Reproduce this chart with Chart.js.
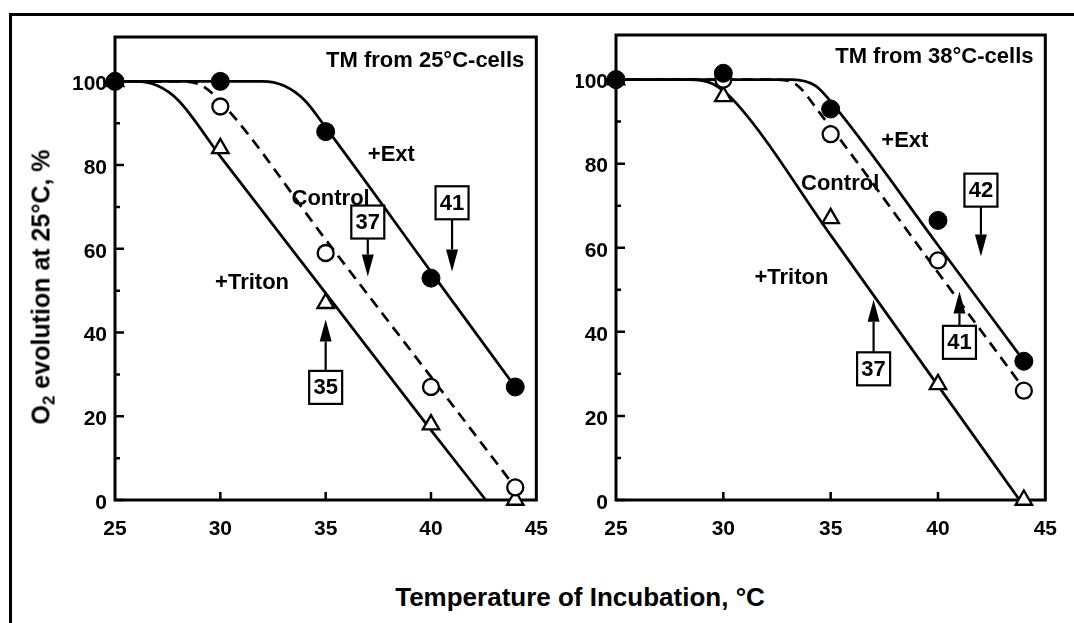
<!DOCTYPE html>
<html>
<head>
<meta charset="utf-8">
<script src="https://cdn.jsdelivr.net/npm/chart.js@4.4.1/dist/chart.umd.min.js"></script>
<style>
  html, body { margin: 0; padding: 0; background: #fff; }
  body { width: 1074px; height: 623px; position: relative; overflow: hidden;
         font-family: "Liberation Sans", Arial, Helvetica, sans-serif; }
  #frame { position: absolute; left: 9px; top: 13px; width: 1090px; height: 640px;
           border-top: 3px solid #000; border-left: 3px solid #000; }
  canvas { position: absolute; top: 0; }
  #panelA { left: 0; }
  #panelB { left: 560px; }
  .axisTitle { position: absolute; font-weight: bold; color: #000; white-space: nowrap; line-height: 1; }
  #xTitle { left: 580px; top: 597px; font-size: 26px; transform: translate(-50%, -50%); }
  #yTitle { left: 43px; top: 287px; font-size: 25px; transform: translate(-50%, -50%) rotate(-90deg); }
  #yTitle sub { font-size: 17px; vertical-align: -5px; }
</style>
</head>
<body>
<div id="frame"></div>
<canvas id="panelA" width="565" height="560"></canvas>
<canvas id="panelB" width="514" height="560"></canvas>
<div class="axisTitle" id="xTitle">Temperature of Incubation, °C</div>
<div class="axisTitle" id="yTitle">O<sub>2</sub> evolution at 25°C, %</div>

<script>
// Incubation temperatures (°C) of the measured samples
const temps = [25, 30, 35, 40, 44];

// TM from 25°C-cells: O2 evolution, % of initial
const extA     = [100, 100, 88, 53, 27];
const controlA = [100, 94, 59, 27, 3];
const tritonA  = [100, 84, 47, 18, 0];

// TM from 38°C-cells: O2 evolution, % of initial
const extB     = [100, 101.5, 93, 66.5, 33];
const controlB = [100, 100, 87, 57, 26];
const tritonB  = [100, 96, 67, 27.5, 0];

// Fitted inactivation curves (temperature, %)
const extFitAx     = [25, 32, 33, 34, 35, 40, 44];
const extFitAy     = [100, 100, 99, 95.5, 89, 54.5, 27];
const controlFitAx = [25, 28, 29, 30, 35, 40, 44];
const controlFitAy = [100, 100, 99.3, 95.2, 62.2, 29.4, 3];
const tritonFitAx  = [25, 26, 27, 28, 30, 35, 40, 42.6];
const tritonFitAy  = [100, 100, 99, 95.5, 82.1, 49.4, 16.7, 0];

const extFitBx     = [25, 33.2, 34.3, 35.3, 40, 44];
const extFitBy     = [100, 100, 98.5, 92.9, 60.6, 33.1];
const controlFitBx = [25, 32.4, 33.4, 34.5, 40, 44];
const controlFitBy = [100, 100, 98.8, 92.0, 54.1, 26.5];
const tritonFitBx  = [25, 28.4, 29.5, 30.6, 35, 40, 43.8];
const tritonFitBy  = [100, 100, 99, 94.4, 63, 27.2, 0];

// Half-inactivation temperatures marked by boxed arrows
const midTempsA = [35, 37, 41];
const midTempsB = [37, 41, 42];

// Axis ticks
const xTicks = [25, 30, 35, 40, 45];
const xInnerTicks = [30, 35, 40];
const yTicks = [0, 20, 40, 60, 80, 100];
const yMinorTicks = [10, 30, 50, 70, 90];

const FONT = '"Liberation Sans", Arial, Helvetica, sans-serif';

function pts(xs, ys) { return xs.map((v, i) => ({ x: v, y: ys[i] })); }

function markerSets(ext, control, triton) {
  return [
    { data: pts(temps, ext), pointStyle: 'circle', pointRadius: 9,
      pointBackgroundColor: '#000', pointBorderColor: '#000', pointBorderWidth: 1 },
    { data: pts(temps, control), pointStyle: 'circle', pointRadius: 8,
      pointBackgroundColor: '#fff', pointBorderColor: '#000', pointBorderWidth: 2.3 },
    { data: pts(temps, triton), pointStyle: 'triangle', pointRadius: 9.5,
      pointBackgroundColor: '#fff', pointBorderColor: '#000', pointBorderWidth: 2.3 }
  ].map(d => Object.assign(d, { showLine: false, clip: false, pointHoverRadius: d.pointRadius }));
}

function curveSet(xs, ys, dashed) {
  return { data: pts(xs, ys), showLine: true, pointRadius: 0, pointHoverRadius: 0,
           borderColor: '#000', borderWidth: 2.7, borderDash: dashed ? [11, 7] : [],
           cubicInterpolationMode: 'monotone', clip: false, fill: false };
}

// Frame, inward ticks, curve labels and boxed arrows
const panelDecor = {
  id: 'panelDecor',
  beforeDatasetsDraw(chart) {
    const { ctx, chartArea: a, scales: { x, y } } = chart;
    ctx.save();
    ctx.strokeStyle = '#000';
    ctx.lineWidth = 3;
    ctx.strokeRect(a.left, a.top, a.right - a.left, a.bottom - a.top);
    ctx.lineWidth = 2.5;
    ctx.beginPath();
    xInnerTicks.forEach(v => {
      const px = x.getPixelForValue(v);
      ctx.moveTo(px, a.bottom); ctx.lineTo(px, a.bottom - 8);
    });
    yTicks.forEach(v => {
      const py = y.getPixelForValue(v);
      ctx.moveTo(a.left, py); ctx.lineTo(a.left + 9, py);
    });
    yMinorTicks.forEach(v => {
      const py = y.getPixelForValue(v);
      ctx.moveTo(a.left, py); ctx.lineTo(a.left + 5, py);
    });
    ctx.stroke();
    ctx.restore();
  },
  afterDatasetsDraw(chart, args, opts) {
    const { ctx, scales: { x, y } } = chart;
    ctx.save();
    ctx.fillStyle = '#000';
    ctx.strokeStyle = '#000';
    ctx.textBaseline = 'middle';
    ctx.font = 'bold 22px ' + FONT;
    opts.labels.forEach(l => {
      ctx.textAlign = l.align || 'left';
      ctx.fillText(l.text, x.getPixelForValue(l.x), y.getPixelForValue(l.y));
    });
    const half = 16.5, headLen = 22, headW = 6;
    opts.marks.forEach(m => {
      const cx = x.getPixelForValue(m.temp);
      const by = y.getPixelForValue(m.boxY);
      const ty = y.getPixelForValue(m.tipY);
      const dir = ty > by ? 1 : -1;
      ctx.fillStyle = '#fff';
      ctx.fillRect(cx - half, by - half, 2 * half, 2 * half);
      ctx.lineWidth = 2.2;
      ctx.strokeRect(cx - half, by - half, 2 * half, 2 * half);
      ctx.fillStyle = '#000';
      ctx.textAlign = 'center';
      ctx.font = 'bold 22px ' + FONT;
      ctx.fillText(String(m.temp), cx, by + 1);
      ctx.beginPath();
      ctx.moveTo(cx, by + dir * half);
      ctx.lineTo(cx, ty - dir * headLen);
      ctx.stroke();
      ctx.beginPath();
      ctx.moveTo(cx, ty);
      ctx.lineTo(cx - headW, ty - dir * headLen);
      ctx.lineTo(cx + headW, ty - dir * headLen);
      ctx.closePath();
      ctx.fill();
    });
    ctx.restore();
  }
};

function makePanel(id, yAxisWidth, pad, datasets, decor) {
  const tickFont = { family: FONT, size: 21, weight: 'bold' };
  return new Chart(document.getElementById(id), {
    type: 'scatter',
    data: { datasets },
    plugins: [panelDecor],
    options: {
      responsive: false,
      animation: false,
      events: [],
      layout: { padding: pad },
      plugins: { legend: { display: false }, tooltip: { enabled: false }, panelDecor: decor },
      scales: {
        x: {
          type: 'linear', min: 25, max: 45,
          afterBuildTicks: s => { s.ticks = xTicks.map(v => ({ value: v })); },
          afterFit: s => { s.height = 40; },
          grid: { display: false, drawTicks: false },
          border: { display: false },
          ticks: { color: '#000', font: tickFont, padding: 17, maxRotation: 0, autoSkip: false }
        },
        y: {
          type: 'linear', min: 0, max: 110.6,
          afterBuildTicks: s => { s.ticks = yTicks.map(v => ({ value: v })); },
          afterFit: s => { s.width = yAxisWidth; },
          grid: { display: false, drawTicks: false },
          border: { display: false },
          ticks: { color: '#000', font: tickFont, padding: 8, labelOffset: 3, autoSkip: false }
        }
      }
    }
  });
}

makePanel('panelA', 50, { left: 65, top: 37, right: 17, bottom: 20 },
  markerSets(extA, controlA, tritonA).concat([
    curveSet(extFitAx, extFitAy, false),
    curveSet(controlFitAx, controlFitAy, true),
    curveSet(tritonFitAx, tritonFitAy, false)
  ]),
  {
    labels: [
      { text: 'TM from 25°C-cells', x: 44.43, y: 105, align: 'right' },
      { text: '+Ext', x: 37.0, y: 82.4 },
      { text: 'Control', x: 33.38, y: 71.9 },
      { text: '+Triton', x: 29.75, y: 51.9 }
    ],
    marks: [
      { temp: midTempsA[0], boxY: 26.9, tipY: 43.1 },
      { temp: midTempsA[1], boxY: 66.4, tipY: 53.4 },
      { temp: midTempsA[2], boxY: 71.0, tipY: 54.6 }
    ]
  });

makePanel('panelB', 40, { left: 16, top: 35, right: 17, bottom: 20 },
  markerSets(extB, controlB, tritonB).concat([
    curveSet(extFitBx, extFitBy, false),
    curveSet(controlFitBx, controlFitBy, true),
    curveSet(tritonFitBx, tritonFitBy, false)
  ]),
  {
    labels: [
      { text: 'TM from 38°C-cells', x: 44.45, y: 105.4, align: 'right' },
      { text: '+Ext', x: 37.36, y: 85.3 },
      { text: 'Control', x: 33.62, y: 75.2 },
      { text: '+Triton', x: 31.45, y: 52.9 }
    ],
    marks: [
      { temp: midTempsB[0], boxY: 31.2, tipY: 47.6 },
      { temp: midTempsB[1], boxY: 37.5, tipY: 49.6 },
      { temp: midTempsB[2], boxY: 73.7, tipY: 57.9 }
    ]
  });
</script>
</body>
</html>
